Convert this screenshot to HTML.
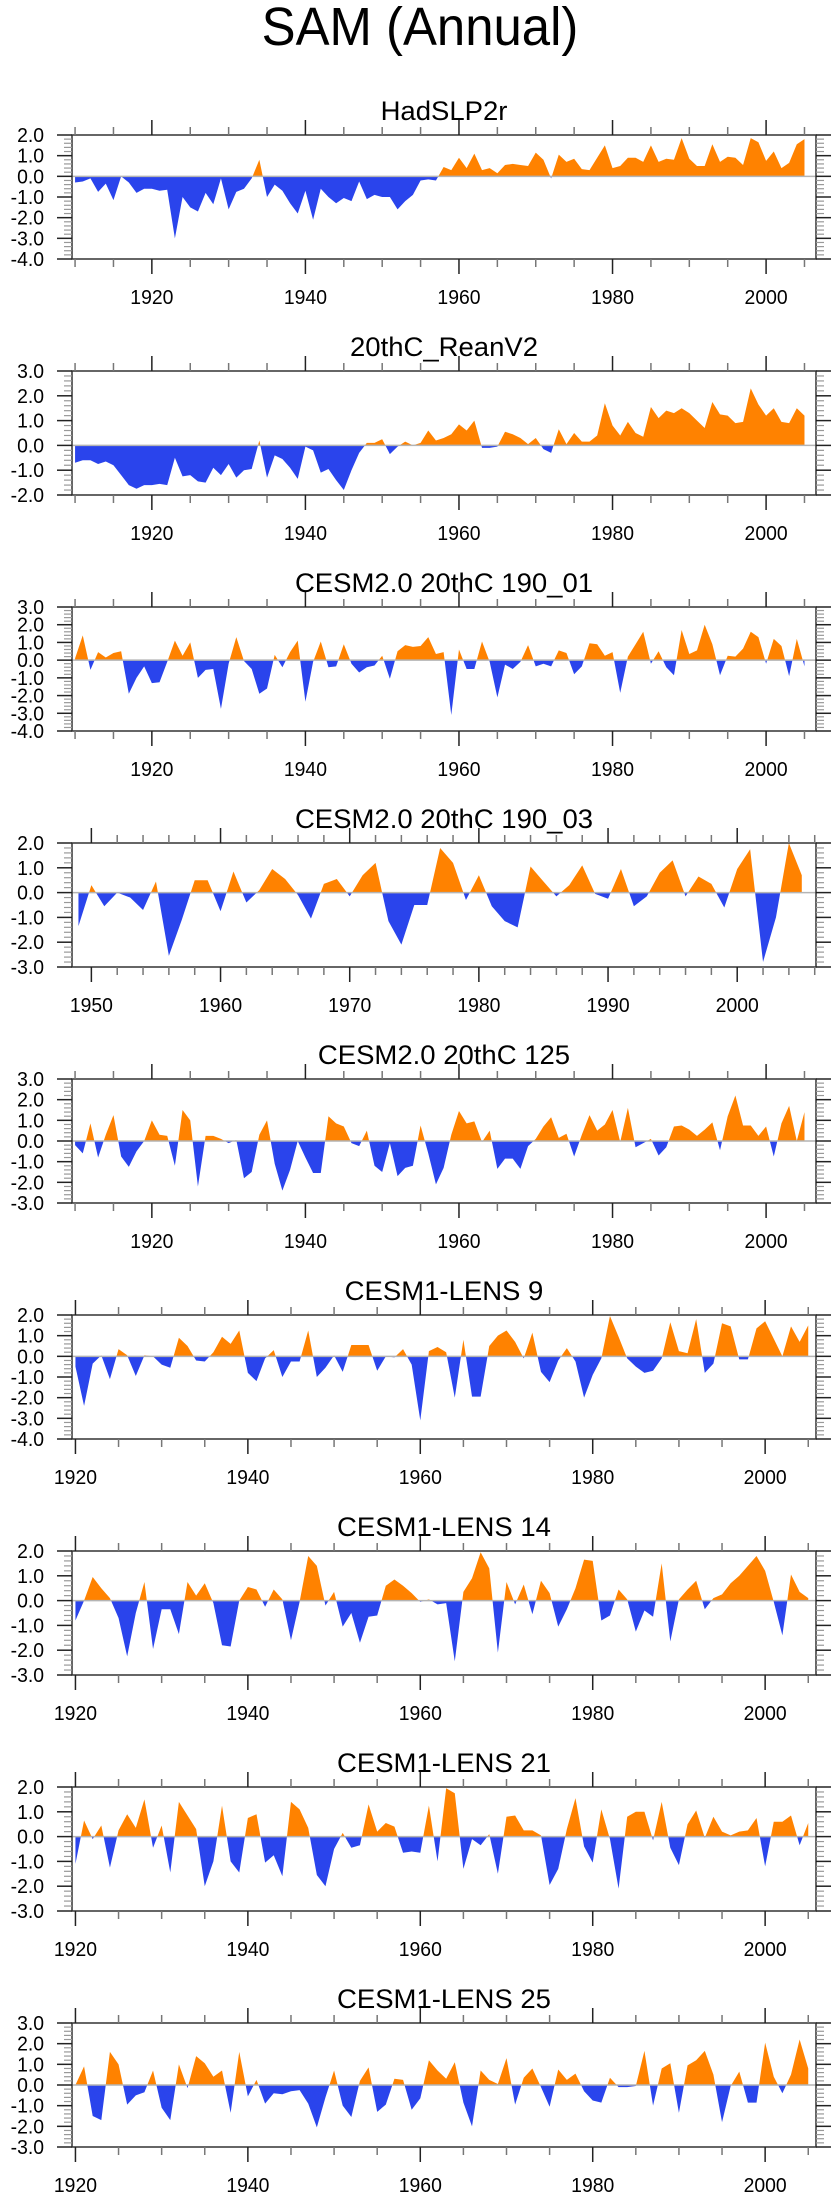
<!DOCTYPE html>
<html><head><meta charset="utf-8"><style>
html,body{margin:0;padding:0;background:#fff;}
svg{display:block;font-family:"Liberation Sans",sans-serif;}
</style></head><body>
<svg id="chart" width="840" height="2200" viewBox="0 0 840 2200" xmlns="http://www.w3.org/2000/svg">
<text x="0" y="0" font-size="48" text-anchor="middle" transform="translate(420,45) scale(1.06,1.12)" fill="#000">SAM (Annual)</text>
</svg>
<script>
const titles = ["HadSLP2r","20thC_ReanV2","CESM2.0 20thC 190_01","CESM2.0 20thC 190_03","CESM2.0 20thC 125","CESM1-LENS 9","CESM1-LENS 14","CESM1-LENS 21","CESM1-LENS 25"];
const startYears = [1910,1910,1910,1949,1910,1920,1920,1920,1920];
const yMins = [-4,-2,-4,-3,-3,-4,-3,-3,-3];
const yMaxs = [2,3,3,2,3,2,2,2,3];
const xMins = [1909.6,1909.6,1909.6,1948.5,1909.6,1919.6,1919.6,1919.6,1919.6];
const xMaxs = [2006.5,2006.5,2006.5,2006.1,2006.5,2005.9,2005.9,2005.9,2005.9];
const xMajorTicks = [[1920,1940,1960,1980,2000],[1920,1940,1960,1980,2000],[1920,1940,1960,1980,2000],[1950,1960,1970,1980,1990,2000],[1920,1940,1960,1980,2000],[1920,1940,1960,1980,2000],[1920,1940,1960,1980,2000],[1920,1940,1960,1980,2000],[1920,1940,1960,1980,2000]];
const xMinorSteps = [5,5,5,2,5,5,5,5,5];

const s1 = [-0.3,-0.25,-0.1,-0.75,-0.35,-1.15,0.0,-0.3,-0.8,-0.6,-0.6,-0.7,-0.65,-3.0,-1.0,-1.5,-1.7,-0.8,-1.35,-0.1,-1.6,-0.75,-0.6,-0.1,0.8,-1.0,-0.4,-0.7,-1.3,-1.8,-0.7,-2.1,-0.6,-1.0,-1.3,-1.05,-1.2,-0.25,-1.1,-0.9,-1.0,-1.0,-1.6,-1.2,-0.9,-0.2,-0.15,-0.2,0.45,0.3,0.9,0.4,1.1,0.3,0.4,0.15,0.55,0.6,0.55,0.5,1.15,0.8,-0.1,1.05,0.7,0.85,0.35,0.3,0.9,1.5,0.4,0.5,0.9,0.9,0.7,1.5,0.7,0.85,0.8,1.85,0.85,0.5,0.5,1.55,0.7,0.95,0.9,0.55,1.85,1.65,0.75,1.2,0.4,0.65,1.55,1.8];
const s2 = [-0.7,-0.6,-0.6,-0.75,-0.65,-0.8,-1.2,-1.6,-1.75,-1.6,-1.6,-1.55,-1.6,-0.5,-1.25,-1.2,-1.45,-1.5,-0.9,-1.2,-0.75,-1.3,-1.0,-0.95,0.2,-1.3,-0.4,-0.55,-0.9,-1.35,-0.05,-0.2,-1.1,-0.95,-1.4,-1.8,-1.0,-0.3,0.1,0.1,0.25,-0.35,-0.05,0.15,0.0,0.1,0.6,0.2,0.3,0.45,0.85,0.6,1.0,-0.1,-0.1,-0.05,0.55,0.45,0.3,0.05,0.3,-0.15,-0.3,0.65,0.05,0.5,0.15,0.15,0.4,1.7,0.8,0.4,0.95,0.5,0.35,1.55,1.1,1.4,1.3,1.5,1.3,1.0,0.7,1.75,1.25,1.2,0.9,0.95,2.3,1.65,1.2,1.5,0.95,0.9,1.5,1.2];
const s3 = [0.1,1.4,-0.55,0.45,0.15,0.4,0.5,-1.9,-1.0,-0.35,-1.3,-1.25,-0.1,1.1,0.25,1.0,-1.0,-0.55,-0.5,-2.75,-0.2,1.3,-0.05,-0.5,-1.9,-1.6,0.3,-0.4,0.45,1.1,-2.35,-0.1,1.05,-0.4,-0.35,0.9,-0.2,-0.7,-0.4,-0.3,0.25,-1.05,0.5,0.85,0.75,0.8,1.3,0.35,0.45,-3.1,0.6,-0.5,-0.5,1.05,-0.1,-2.1,-0.25,-0.5,-0.1,0.85,-0.35,-0.2,-0.35,0.55,0.4,-0.8,-0.35,0.95,0.9,0.25,0.45,-1.85,0.2,0.9,1.6,-0.2,0.5,-0.4,-0.85,1.7,0.35,0.55,2.0,0.9,-0.85,0.25,0.2,0.65,1.6,1.3,-0.2,1.2,0.8,-0.9,1.2,-0.35];
const s4 = [-1.35,0.3,-0.55,0.0,-0.2,-0.7,0.45,-2.55,-1.1,0.5,0.5,-0.75,0.85,-0.4,0.1,0.95,0.55,-0.1,-1.05,0.35,0.55,-0.15,0.7,1.2,-1.15,-2.1,-0.5,-0.5,1.8,1.2,-0.3,0.7,-0.55,-1.15,-1.4,1.05,0.45,-0.15,0.3,1.1,-0.05,-0.25,0.95,-0.55,-0.15,0.8,1.3,-0.15,0.65,0.35,-0.6,0.95,1.75,-2.8,-1.0,2.0,0.7];
const s5 = [-0.2,-0.6,0.85,-0.8,0.3,1.25,-0.75,-1.25,-0.5,0.0,1.0,0.3,0.25,-1.2,1.5,1.0,-2.2,0.25,0.25,0.1,-0.1,0.05,-1.8,-1.5,0.3,1.0,-1.1,-2.4,-1.4,0.0,-0.8,-1.55,-1.55,1.2,0.85,0.7,-0.1,-0.25,0.5,-1.2,-1.5,-0.1,-1.7,-1.3,-1.2,0.75,-0.6,-2.1,-1.3,0.3,1.45,0.85,0.95,-0.05,0.5,-1.35,-0.85,-0.85,-1.35,-0.25,0.1,0.7,1.15,0.15,0.35,-0.75,0.3,1.25,0.5,0.8,1.5,-0.05,1.6,-0.3,-0.1,0.1,-0.7,-0.3,0.7,0.75,0.55,0.25,0.55,0.9,-0.45,1.2,2.2,0.75,0.75,0.25,0.7,-0.75,0.85,1.7,0.0,1.4];
const s6 = [-0.5,-2.4,-0.35,0.05,-1.1,0.35,0.05,-0.95,0.05,0.0,-0.4,-0.55,0.9,0.5,-0.2,-0.25,0.2,0.95,0.6,1.25,-0.8,-1.2,-0.1,0.3,-1.0,-0.25,-0.25,1.25,-1.0,-0.55,0.05,-0.75,0.55,0.55,0.55,-0.7,0.0,-0.05,0.35,-0.4,-3.1,0.25,0.45,0.2,-2.0,0.8,-1.95,-1.95,0.5,1.0,1.25,0.7,-0.1,1.15,-0.75,-1.25,-0.2,0.4,-0.25,-2.0,-0.9,-0.1,1.95,0.95,-0.1,-0.5,-0.8,-0.7,-0.1,1.65,0.25,0.15,1.8,-0.8,-0.35,1.6,1.45,-0.15,-0.15,1.35,1.7,0.85,0.0,1.45,0.7,1.5];
const s7 = [-0.8,0.0,0.95,0.5,0.1,-0.7,-2.25,-0.5,0.75,-1.95,-0.35,-0.35,-1.35,0.75,0.2,0.7,-0.1,-1.8,-1.85,0.0,0.55,0.45,-0.25,0.45,0.05,-1.6,-0.05,1.8,1.4,-0.2,0.35,-1.05,-0.5,-1.7,-0.65,-0.6,0.6,0.85,0.6,0.3,-0.05,0.05,-0.15,-0.1,-2.45,0.35,0.9,1.95,1.3,-2.1,0.75,-0.15,0.65,-0.55,0.8,0.3,-1.05,-0.35,0.5,1.65,1.6,-0.8,-0.6,0.45,0.05,-1.25,-0.4,-0.65,1.5,-1.65,0.05,0.45,0.8,-0.35,0.1,0.25,0.7,1.0,1.4,1.8,1.2,-0.05,-1.4,1.05,0.35,0.1];
const s8 = [-1.1,0.65,-0.1,0.45,-1.25,0.25,0.9,0.35,1.5,-0.45,0.45,-1.45,1.4,0.85,0.3,-2.0,-1.0,1.25,-1.0,-1.45,0.75,0.9,-1.05,-0.75,-1.6,1.4,1.1,0.35,-1.55,-2.0,-0.5,0.15,-0.45,-0.35,1.3,0.2,0.55,0.4,-0.65,-0.6,-0.65,1.25,-1.0,1.95,1.75,-1.3,-0.1,-0.35,0.1,-1.5,0.8,0.85,0.25,0.25,0.05,-1.95,-1.3,0.3,1.55,-0.4,-1.05,1.1,-0.1,-2.1,0.8,1.0,1.0,-0.15,1.4,-0.45,-1.15,0.5,1.05,-0.05,0.8,0.2,0.05,0.2,0.25,0.75,-1.2,0.6,0.6,0.85,-0.35,0.55];
const s9 = [0.0,0.9,-1.5,-1.7,1.6,1.0,-0.95,-0.5,-0.35,0.7,-1.1,-1.7,1.0,-0.15,1.4,1.05,0.4,0.7,-1.35,1.6,-0.55,0.25,-0.9,-0.4,-0.45,-0.3,-0.25,-0.9,-2.05,-0.6,0.7,-1.0,-1.55,0.2,0.85,-1.3,-0.95,0.3,0.25,-1.2,-0.65,1.2,0.7,0.3,1.1,-0.85,-2.0,0.7,0.25,0.05,1.3,-0.95,0.35,0.8,-0.1,-1.05,0.75,0.25,0.55,-0.3,-0.75,-0.85,0.35,-0.1,-0.1,-0.05,1.65,-1.0,0.8,1.05,-1.35,0.95,1.2,1.65,0.5,-1.8,-0.05,0.65,-0.85,-0.85,2.05,0.4,-0.4,0.5,2.2,0.8];
const series = [s1,s2,s3,s4,s5,s6,s7,s8,s9];

const NS = "http://www.w3.org/2000/svg";
const svg = document.getElementById('chart');
const BOX_L = 72, BOX_R = 816, BOX_H = 124, TOP0 = 135, GAP = 236;
function mk(tag, attrs, parent){const e=document.createElementNS(NS,tag);for(const k in attrs)e.setAttribute(k,attrs[k]);(parent||svg).appendChild(e);return e;}

for (let p = 0; p < 9; p++) {
  const top = TOP0 + p*GAP, bot = top + BOX_H;
  const g = mk('g', {});
  
  
  const xs = yr => BOX_L + (yr - xMins[p]) / (xMaxs[p] - xMins[p]) * (BOX_R - BOX_L);
  const ys = v => top + (yMaxs[p] - v) / (yMaxs[p] - yMins[p]) * BOX_H;
  const vals = series[p];
  const pts = [];
  for (let i = 0; i < vals.length; i++) {
    const yr = startYears[p] + i, v = vals[i];
    if (i > 0) {
      const v0 = vals[i-1];
      if ((v0 > 0 && v < 0) || (v0 < 0 && v > 0)) {
        const t = v0 / (v0 - v);
        pts.push([yr - 1 + t, 0]);
      }
    }
    pts.push([yr, v]);
  }
  const first = pts[0][0], last = pts[pts.length-1][0];
  let posD = 'M' + xs(first) + ',' + ys(0);
  let negD = 'M' + xs(first) + ',' + ys(0);
  pts.forEach(q => { posD += 'L' + xs(q[0]).toFixed(2) + ',' + ys(Math.max(q[1],0)).toFixed(2); negD += 'L' + xs(q[0]).toFixed(2) + ',' + ys(Math.min(q[1],0)).toFixed(2); });
  posD += 'L' + xs(last) + ',' + ys(0) + 'Z';
  negD += 'L' + xs(last) + ',' + ys(0) + 'Z';
  const pos = mk('path', {d: posD, fill: '#ff8200', stroke: 'none'}, g);
  
  
  const neg = mk('path', {d: negD, fill: '#2a44ec', stroke: 'none'}, g);
  
  
  const zl = mk('line', {x1: BOX_L, x2: BOX_R, y1: ys(0), y2: ys(0), stroke: '#b4b4b4', 'stroke-width': 1.5}, g);
  
  
  const box = mk('rect', {x: BOX_L, y: top, width: BOX_R - BOX_L, height: BOX_H, fill: 'none', stroke: '#333', 'stroke-width': 1.5}, g);
  
  
  for (let v = yMins[p]; v <= yMaxs[p] + 1e-6; v += 0.2) {
    const vv = Math.round(v*10)/10;
    const major = Math.abs(vv - Math.round(vv)) < 1e-6;
    const L = major ? 15 : 8, col = major ? '#222' : '#999';
    mk('line', {x1: BOX_L - L, x2: BOX_L, y1: ys(vv), y2: ys(vv), stroke: col, 'stroke-width': major ? 1.5 : 1.2}, g);
    mk('line', {x1: BOX_R, x2: BOX_R + L, y1: ys(vv), y2: ys(vv), stroke: col, 'stroke-width': major ? 1.5 : 1.2}, g);
    if (major) {
      const t = mk('text', {x: 0, y: 0, 'font-size': 19, 'text-anchor': 'end', fill: '#000', transform: 'translate(44,' + (ys(vv)+7) + ') scale(1.02,1.05)'}, g);
      
      
      t.textContent = vv.toFixed(1);
    }
  }
  const step = xMinorSteps[p];
  for (let yr = Math.ceil(xMins[p]/step)*step; yr <= xMaxs[p]; yr += step) {
    const major = xMajorTicks[p].indexOf(yr) >= 0;
    const L = major ? 15 : 8;
    mk('line', {x1: xs(yr), x2: xs(yr), y1: top - L, y2: top, stroke: major ? '#222' : '#777', 'stroke-width': 1.5}, g);
    mk('line', {x1: xs(yr), x2: xs(yr), y1: bot, y2: bot + L, stroke: major ? '#222' : '#777', 'stroke-width': 1.5}, g);
  }
  xMajorTicks[p].forEach(yr => {
    const t = mk('text', {x: 0, y: 0, 'font-size': 19, 'text-anchor': 'middle', fill: '#000', transform: 'translate(' + xs(yr) + ',' + (top + 169) + ') scale(1.02,1.05)'}, g);
    
    
    t.textContent = yr;
  });
  const tt = mk('text', {x: 0, y: 0, 'font-size': 25, 'text-anchor': 'middle', fill: '#000', transform: 'translate(444,' + (top - 15) + ') scale(1.1,1.08)'}, g);
  
  
  tt.textContent = titles[p];
}
</script>
</body></html>
